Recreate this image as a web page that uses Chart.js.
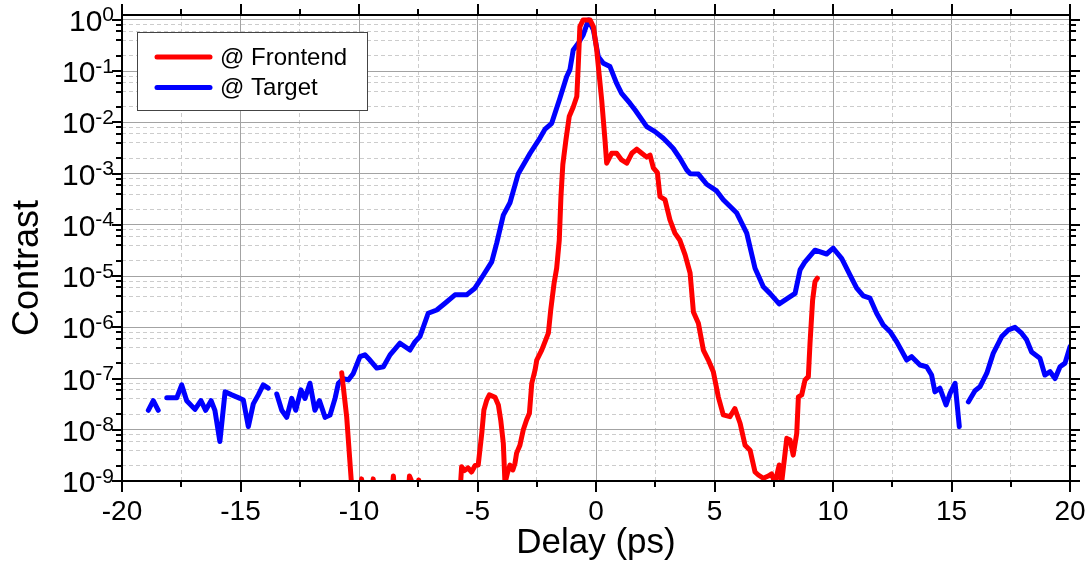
<!DOCTYPE html>
<html><head><meta charset="utf-8">
<script src="https://cdn.jsdelivr.net/npm/chart.js@4/dist/chart.umd.min.js"></script>
<style>html,body{margin:0;padding:0;background:#fff}#wrap{width:1092px;height:567px}</style>
</head><body><div id="wrap"><canvas id="c" width="1092" height="567"></canvas></div>
<script>
// ---- data (delay in ps, contrast) ----
const targetX = [-18.89,-18.68,-18.47,-18.3,
 -18.11,-17.69,-17.48,-17.27,-16.92,-16.67,-16.47,-16.24,-16.08,-15.87,-15.65,-15.37,-15.02,-14.88,-14.67,-14.46,-14.25,-14.04,-13.83,-13.65,
 -13.47,-13.26,-13.05,-12.84,-12.67,-12.45,-12.28,-12.07,-11.86,-11.67,-11.43,-11.22,-11.01,-10.87,-10.66,-10.45,-10.24,-9.96,-9.75,-9.54,-9.25,-8.97,-8.69,-8.27,-7.85,-7.64,-7.43,-7.08,-6.72,-6.37,-5.95,-5.46,-5.11,-4.75,-4.40,-4.19,-3.91,-3.63,-3.28,-2.78,-2.36,-2.15,-1.87,-1.52,-1.24,-1.10,-0.96,-0.75,-0.54,-0.32,-0.11,0.10,0.31,0.59,0.87,1.08,1.43,1.65,2.14,2.49,2.84,3.05,3.26,3.54,3.83,3.97,4.32,4.67,5.09,5.37,5.94,6.36,6.71,7.06,7.34,7.73,8.40,8.61,8.82,9.24,9.73,10.01,10.37,10.72,11.00,11.28,11.56,11.84,12.12,12.41,12.69,13.11,13.32,13.67,13.95,14.16,14.30,14.51,14.77,14.94,15.15,15.33,15.5,
 15.71,15.99,16.20,16.49,16.76,17.12,17.40,17.68,17.96,18.17,18.38,18.73,18.94,19.16,19.37,19.58,19.79,20.0];
const targetY = [2.4e-8,3.7e-8,2.4e-8,null,
 4.2e-8,4.2e-8,7.5e-8,3.7e-8,2.5e-8,3.7e-8,2.4e-8,3.7e-8,2.4e-8,5.9e-9,5.5e-8,4.8e-8,4.1e-8,3.8e-8,1.15e-8,3.2e-8,4.8e-8,7.5e-8,6.5e-8,null,
 5.0e-8,2.4e-8,1.75e-8,4.1e-8,2.4e-8,6.0e-8,4.1e-8,8.1e-8,2.4e-8,3.7e-8,1.75e-8,1.95e-8,4.1e-8,8.1e-8,1.0e-7,9.4e-8,1.26e-7,2.67e-7,2.9e-7,2.3e-7,1.6e-7,1.7e-7,2.9e-7,4.9e-7,3.6e-7,5.2e-7,6.6e-7,1.88e-6,2.18e-6,2.95e-6,4.3e-6,4.3e-6,5.8e-6,1.05e-5,1.9e-5,4.4e-5,1.55e-4,2.7e-4,1.0e-3,2.5e-3,5.0e-3,7.4e-3,9.6e-3,3.0e-2,7.8e-2,0.107,0.26,0.35,0.51,1.0,0.64,0.19,0.143,0.123,5.8e-2,3.7e-2,2.37e-2,1.75e-2,8.3e-3,6.6e-3,4.9e-3,3.9e-3,3.1e-3,2.0e-3,1.18e-3,1.0e-3,9.8e-4,6.2e-4,4.6e-4,3.1e-4,1.7e-4,6.9e-5,1.42e-5,6.2e-6,4.6e-6,2.86e-6,4.6e-6,1.32e-5,1.9e-5,3.2e-5,2.7e-5,3.5e-5,2.2e-5,1.05e-5,5.8e-6,4.1e-6,3.7e-6,1.88e-6,1.11e-6,8.2e-7,5.2e-7,2.3e-7,2.67e-7,1.84e-7,1.7e-7,1.17e-7,5.5e-8,6.5e-8,3.05e-8,5.15e-8,8.1e-8,1.15e-8,null,
 3.5e-8,5.8e-8,6.9e-8,1.27e-7,3.1e-7,6.6e-7,8.9e-7,1.0e-6,7.7e-7,5.7e-7,3.3e-7,2.5e-7,1.17e-7,1.36e-7,1.0e-7,1.7e-7,2.0e-7,4.2e-7];

const frontendX = [-10.73,-10.52,-10.31,-10.1,-9.95,-9.89,-9.83,-9.46,-9.40,-9.34,-8.62,-8.55,-8.48,-7.93,-7.87,-7.80,-7.72,-7.55,-7.48,-7.40,-5.75,
 -5.67,-5.55,-5.40,-5.25,-5.10,-4.97,-4.82,-4.73,-4.61,-4.50,-4.26,-4.12,-4.02,-3.91,-3.84,-3.74,-3.63,-3.51,-3.42,-3.35,-3.21,-3.07,-2.93,-2.81,-2.71,-2.57,-2.50,-2.29,-2.01,-1.91,-1.77,-1.66,-1.55,-1.48,-1.40,-1.27,-1.13,-0.96,-0.81,-0.75,-0.68,-0.54,-0.25,-0.11,0.03,0.24,0.38,0.45,0.66,0.87,1.08,1.30,1.51,1.72,1.93,2.14,2.28,2.42,2.59,2.70,2.91,3.12,3.33,3.54,3.76,3.97,4.11,4.32,4.53,4.74,4.95,5.16,5.37,5.65,5.86,6.08,6.29,6.50,6.71,6.85,7.06,7.27,7.41,7.55,7.73,7.83,8.05,8.19,8.32,8.47,8.54,8.68,8.82,8.96,9.03,9.14,9.24,9.34];
const frontendY = [1.3e-7,1.8e-8,8e-10,5e-10,5e-10,1.1e-9,5e-10,5e-10,1.1e-9,5e-10,5e-10,1.25e-9,5e-10,5e-10,1.25e-9,1.05e-9,5e-10,5e-10,1.05e-9,5e-10,5e-10,
 1.9e-9,1.6e-9,1.8e-9,1.5e-9,2.0e-9,2.05e-9,8.5e-9,2.43e-8,3.8e-8,4.8e-8,4.3e-8,3.05e-8,1.55e-8,5.4e-9,9e-10,1.41e-9,2.05e-9,1.64e-9,2.2e-9,3.5e-9,5.0e-9,9.9e-9,1.55e-8,2.1e-8,8.1e-8,1.47e-7,2.3e-7,3.6e-7,7.7e-7,2.18e-6,7.2e-6,1.42e-5,5.0e-5,3.5e-4,1.5e-3,4.5e-3,1.3e-2,2.0e-2,3.2e-2,0.123,0.74,1.0,1.0,0.74,0.26,2.75e-2,4.5e-3,1.6e-3,2.5e-3,2.5e-3,1.85e-3,1.6e-3,2.5e-3,3.0e-3,2.5e-3,2.1e-3,2.3e-3,1.3e-3,1.05e-3,3.55e-4,3.1e-4,1.25e-4,6.9e-5,5.0e-5,2.6e-5,1.15e-5,2.0e-6,1.2e-6,3.6e-7,2.3e-7,1.36e-7,4.4e-8,1.95e-8,1.8e-8,2.6e-8,1.34e-8,5.0e-9,4.0e-9,1.5e-9,1.31e-9,1.13e-9,1.25e-9,1.37e-9,9e-10,2.05e-9,9e-10,6.8e-9,6.3e-9,3.2e-9,8.5e-9,4.4e-8,4.8e-8,9.4e-8,1.09e-7,4.9e-7,3.4e-6,7.8e-6,9.1e-6];

const seriesLabels = ['@ Frontend', '@ Target'];
const xTitle = 'Delay (ps)';
const yTitle = 'Contrast';
const xTickValues = [-20,-17.5,-15,-12.5,-10,-7.5,-5,-2.5,0,2.5,5,7.5,10,12.5,15,17.5,20];
const yDecadeExponents = [-9,-8,-7,-6,-5,-4,-3,-2,-1,0];
const yMinorMultipliers = [2,4,6,8];

const FONT = "'Liberation Sans', Arial, sans-serif";
const toPoints = (xs, ys) => xs.map((x, i) => ({x: x, y: ys[i]}));
const isDecade = v => Math.abs(Math.log10(v) - Math.round(Math.log10(v))) < 1e-6;
const isMajorX = v => Math.abs(v % 5) < 1e-9;

const yTickValues = [];
yDecadeExponents.forEach(e => {
  yTickValues.push(Math.pow(10, e));
  if (e < 0) yMinorMultipliers.forEach(m => yTickValues.push(m * Math.pow(10, e)));
});

const framePlugin = {
  id: 'frame',
  afterDatasetsDraw(chart) {
    const {ctx, chartArea: a, scales: {x, y}} = chart;
    ctx.save();
    // legend
    const lx = 137, ly = 32, lw = 230, lh = 78;
    ctx.fillStyle = '#fff';
    ctx.fillRect(lx, ly, lw, lh);
    ctx.strokeStyle = '#444'; ctx.lineWidth = 1;
    ctx.strokeRect(lx + 0.5, ly + 0.5, lw, lh);
    chart.data.datasets.forEach((ds, i) => {
      const yy = 57 + i * 30.5;
      ctx.strokeStyle = ds.borderColor; ctx.lineWidth = 5; ctx.lineCap = 'round';
      ctx.beginPath(); ctx.moveTo(157, yy); ctx.lineTo(210, yy); ctx.stroke();
      ctx.fillStyle = '#000'; ctx.font = '24px ' + FONT;
      ctx.textAlign = 'left'; ctx.textBaseline = 'middle';
      ctx.fillText(ds.label, 220, yy + 1);
    });
    // frame
    ctx.lineCap = 'butt';
    ctx.strokeStyle = '#000'; ctx.lineWidth = 2;
    ctx.strokeRect(a.left, a.top, a.right - a.left, a.bottom - a.top);
    // x ticks (top & bottom)
    xTickValues.forEach(v => {
      const px = Math.round(x.getPixelForValue(v));
      const len = isMajorX(v) ? 11 : 6;
      ctx.beginPath();
      ctx.moveTo(px, a.bottom); ctx.lineTo(px, a.bottom + len);
      ctx.moveTo(px, a.top); ctx.lineTo(px, a.top - len);
      ctx.stroke();
    });
    // y ticks (left & right)
    yTickValues.forEach(v => {
      const py = Math.round(y.getPixelForValue(v));
      const len = isDecade(v) ? 10 : 6;
      ctx.beginPath();
      ctx.moveTo(a.left, py); ctx.lineTo(a.left - len, py);
      ctx.moveTo(a.right, py); ctx.lineTo(a.right + len, py);
      ctx.stroke();
    });
    // y labels 10^n
    ctx.fillStyle = '#000';
    ctx.textBaseline = 'alphabetic'; ctx.textAlign = 'left';
    yDecadeExponents.forEach(e => {
      const py = y.getPixelForValue(Math.pow(10, e));
      const expText = String(e);
      ctx.font = '21px ' + FONT;
      const ew = ctx.measureText(expText).width;
      const ex = 114 - ew;
      ctx.fillText(expText, ex, py + 1.5);
      ctx.font = '30px ' + FONT;
      const tw = ctx.measureText('10').width;
      ctx.fillText('10', ex - tw, py + 11);
    });
    // y axis title
    ctx.save();
    ctx.translate(38, 268);
    ctx.rotate(-Math.PI / 2);
    ctx.font = '36px ' + FONT;
    ctx.textAlign = 'center'; ctx.textBaseline = 'alphabetic';
    ctx.fillText(yTitle, 0, 0);
    ctx.restore();
    ctx.restore();
  }
};

new Chart(document.getElementById('c'), {
  type: 'line',
  data: {
    datasets: [
      {label: seriesLabels[0], data: toPoints(frontendX, frontendY), borderColor: '#ff0000', backgroundColor: '#ff0000'},
      {label: seriesLabels[1], data: toPoints(targetX, targetY), borderColor: '#0000ff', backgroundColor: '#0000ff'}
    ]
  },
  options: {
    responsive: false, animation: false, devicePixelRatio: 1,
    layout: {padding: {top: 15, right: 22, left: 0, bottom: 0}},
    elements: {
      line: {borderWidth: 5, tension: 0, borderJoinStyle: 'round', borderCapStyle: 'round'},
      point: {radius: 0, hoverRadius: 0}
    },
    spanGaps: false,
    plugins: {legend: {display: false}, tooltip: {enabled: false}},
    scales: {
      x: {
        type: 'linear', min: -20, max: 20,
        afterBuildTicks: s => { s.ticks = xTickValues.map(v => ({value: v})); },
        afterFit: s => { s.height = 86; s.paddingLeft = 0; s.paddingRight = 0; },
        ticks: {
          autoSkip: false, maxRotation: 0, padding: 14, color: '#000',
          font: {family: FONT, size: 28},
          callback: v => isMajorX(v) ? String(v) : ''
        },
        grid: {
          drawTicks: false,
          color: c => (c.tick && isMajorX(c.tick.value)) ? '#a3a3a3' : '#cccccc',
          lineWidth: 1
        },
        border: {display: false, dash: c => (c.tick && !isMajorX(c.tick.value)) ? [4, 3] : []},
        title: {display: true, text: xTitle, color: '#000', font: {family: FONT, size: 35}, padding: {top: 0, bottom: 3}}
      },
      y: {
        type: 'logarithmic', min: 1e-9, max: 1.25,
        afterBuildTicks: s => { s.ticks = yTickValues.map(v => ({value: v})); },
        afterFit: s => { s.width = 122; s.paddingTop = 0; s.paddingBottom = 0; },
        ticks: {display: false},
        grid: {
          drawTicks: false,
          color: c => (c.tick && isDecade(c.tick.value)) ? '#a3a3a3' : '#cccccc',
          lineWidth: 1
        },
        border: {display: false, dash: c => (c.tick && !isDecade(c.tick.value)) ? [4, 3] : []},
        title: {display: false}
      }
    }
  },
  plugins: [framePlugin]
});
</script>
</body></html>
